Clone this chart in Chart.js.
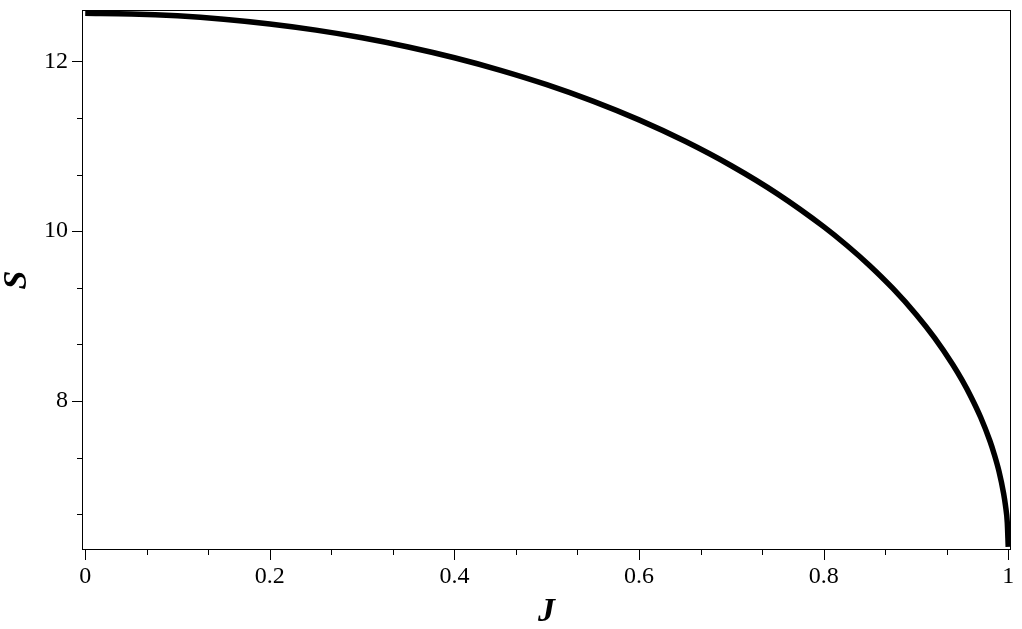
<!DOCTYPE html>
<html>
<head>
<meta charset="utf-8">
<script src="https://cdn.jsdelivr.net/npm/chart.js@4/dist/chart.umd.min.js"></script>
<style>
  html, body { margin: 0; padding: 0; background: #ffffff; }
  #caja { width: 1022px; height: 629px; position: relative; }
</style>
</head>
<body>
<div id="caja"><canvas id="grafico"></canvas></div>
<script>
// valores (J, S)
const valoresJ = [0, 0.05, 0.1, 0.15, 0.2, 0.25, 0.3, 0.35, 0.4, 0.45, 0.5, 0.55, 0.6, 0.65,
                  0.7, 0.75, 0.8, 0.825, 0.85, 0.875, 0.9, 0.92, 0.94, 0.95, 0.96, 0.97, 0.98,
                  0.985, 0.99, 0.995, 0.997, 0.999, 1];
const valoresS = [12.566, 12.558, 12.535, 12.495, 12.439, 12.367, 12.277, 12.169, 12.042,
                  11.894, 11.725, 11.531, 11.310, 11.058, 10.770, 10.439, 10.053, 9.834,
                  9.593, 9.325, 9.022, 8.746, 8.427, 8.245, 8.042, 7.811, 7.534, 7.367,
                  7.170, 6.911, 6.770, 6.564, 6.283];

// marcas con etiqueta de cada eje
const marcasX = [0, 0.2, 0.4, 0.6, 0.8, 1];
const marcasY = [8, 10, 12];

const fuente = "Liberation Serif";

const getElemento = (id) => document.getElementById(id);

/* dibuja las marcas mayores y menores (3 divisiones) hacia afuera, y el recuadro */
const marcasPlugin = {
    id: "marcas",
    afterDraw(chart) {
        const ctx = chart.ctx;
        const area = chart.chartArea;
        const ex = chart.scales.x;
        const ey = chart.scales.y;
        ctx.save();
        ctx.strokeStyle = "#000000";
        ctx.lineWidth = 1;
        ctx.strokeRect(Math.round(area.left) + 0.5, Math.round(area.top) + 0.5,
            Math.round(area.right - area.left) - 1, Math.round(area.bottom - area.top) - 1);

        const pasoX = (marcasX[1] - marcasX[0]) / 3;
        for (let v = marcasX[0] - 3 * pasoX; v <= ex.max + 1e-9; v += pasoX) {
            if (v < ex.min - 1e-9) continue;
            const k = Math.round((v - marcasX[0]) / pasoX);
            const largo = (k % 3 === 0) ? 10 : 5;
            const px = Math.round(ex.getPixelForValue(v)) + 0.5;
            ctx.beginPath();
            ctx.moveTo(px, area.bottom);
            ctx.lineTo(px, area.bottom + largo);
            ctx.stroke();
        }
        const pasoY = (marcasY[1] - marcasY[0]) / 3;
        for (let v = marcasY[0] - 3 * pasoY; v <= ey.max + 1e-9; v += pasoY) {
            if (v < ey.min - 1e-9) continue;
            const k = Math.round((v - marcasY[0]) / pasoY);
            const largo = (k % 3 === 0) ? 10 : 5;
            const py = Math.round(ey.getPixelForValue(v)) + 0.5;
            ctx.beginPath();
            ctx.moveTo(area.left, py);
            ctx.lineTo(area.left - largo, py);
            ctx.stroke();
        }
        ctx.restore();
    }
};

const fondoPlugin = {
    id: "fondo",
    beforeDraw(chart) {
        const ctx = chart.ctx;
        ctx.save();
        ctx.fillStyle = "#ffffff";
        ctx.fillRect(0, 0, chart.width, chart.height);
        ctx.restore();
    }
};

// sin relleno extra por las etiquetas de los extremos
const sinRelleno = (eje) => {
    eje.paddingTop = 0;
    eje.paddingBottom = 0;
    eje.paddingLeft = 0;
    eje.paddingRight = 0;
};

const puntos = valoresJ.map((j, i) => ({ x: j, y: valoresS[i] }));

new Chart(getElemento("grafico").getContext("2d"), {
    type: "line",
    data: {
        datasets: [{
            data: puntos,
            borderColor: "#000000",
            borderWidth: 5.5,
            pointRadius: 0,
            cubicInterpolationMode: "monotone",
            fill: false
        }]
    },
    options: {
        responsive: true,
        maintainAspectRatio: false,
        animation: false,
        layout: { padding: { left: 0, right: 11, top: 10, bottom: 0 } },
        plugins: {
            legend: { display: false },
            tooltip: { enabled: false }
        },
        scales: {
            x: {
                type: "linear",
                min: -0.0035,
                max: 1.003,
                afterBuildTicks: (eje) => { eje.ticks = marcasX.map(v => ({ value: v })); },
                afterFit: (eje) => { eje.height = 79; sinRelleno(eje); },
                grid: { display: false, drawTicks: false },
                border: { display: false },
                ticks: {
                    color: "#000000",
                    padding: 12,
                    maxRotation: 0,
                    autoSkip: false,
                    font: { family: fuente, size: 24 },
                    callback: (v) => String(Number(v.toFixed(1)))
                },
                title: {
                    display: true,
                    text: "J",
                    color: "#000000",
                    padding: { top: 0, bottom: 0 },
                    font: { family: fuente, size: 34, style: "italic", weight: "bold", lineHeight: 1 }
                }
            },
            y: {
                type: "linear",
                min: 6.245,
                max: 12.604,
                afterBuildTicks: (eje) => { eje.ticks = marcasY.map(v => ({ value: v })); },
                afterFit: (eje) => { eje.width = 82; sinRelleno(eje); },
                grid: { display: false, drawTicks: false },
                border: { display: false },
                ticks: {
                    color: "#000000",
                    padding: 14,
                    autoSkip: false,
                    font: { family: fuente, size: 24 }
                },
                title: {
                    display: true,
                    text: "S",
                    color: "#000000",
                    padding: { top: 0, bottom: 0 },
                    font: { family: fuente, size: 34, style: "italic", weight: "bold", lineHeight: 1 }
                }
            }
        }
    },
    plugins: [fondoPlugin, marcasPlugin]
});
</script>
</body>
</html>
